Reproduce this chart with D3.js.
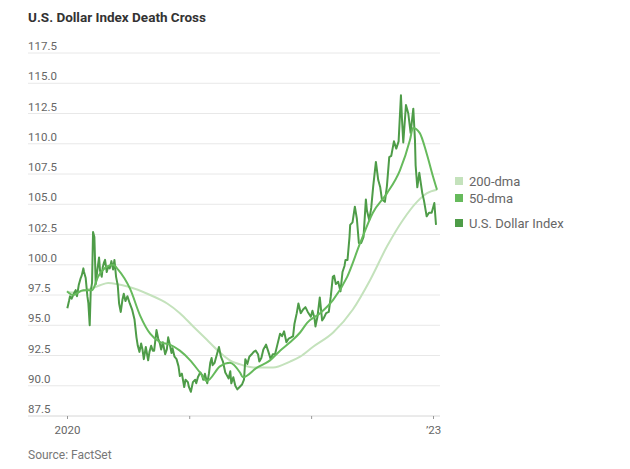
<!DOCTYPE html>
<html lang="en">
<head>
<meta charset="utf-8">
<title>U.S. Dollar Index Death Cross</title>
<script src="https://d3js.org/d3.v7.min.js"></script>
<style>
  html, body { margin: 0; padding: 0; background: #fff; }
  svg { display: block; }
  .title { font-family: Roboto, sans-serif; font-size: 13.5px; font-weight: bold; fill: #333; }
  .ylab { font-family: Roboto, sans-serif; font-size: 11.5px; fill: #666; }
  .legend { font-family: Roboto, sans-serif; font-size: 13px; fill: #666; }
  .source { font-family: Roboto, sans-serif; font-size: 12px; fill: #777; }
</style>
</head>
<body>
<svg width="630" height="469"></svg>
<script>
// ---- data ----
const yTicks = [87.5, 90.0, 92.5, 95.0, 97.5, 100.0, 102.5, 105.0, 107.5, 110.0, 112.5, 115.0, 117.5];
const xTickDates = ["2020-01-01", "2021-01-01", "2022-01-01", "2023-01-01"];
const xTickLabels = ["2020", "", "", "\u201923"];
const legendLabels = ["200-dma", "50-dma", "U.S. Dollar Index"];

const dollarIndex = [
  ["2020-01-02", 96.4], ["2020-01-07", 97.0], ["2020-01-10", 97.4], ["2020-01-15", 97.2],
  ["2020-01-21", 97.6], ["2020-01-27", 97.9], ["2020-01-31", 97.4], ["2020-02-05", 98.3],
  ["2020-02-11", 98.9], ["2020-02-14", 99.1], ["2020-02-19", 99.7], ["2020-02-21", 99.4],
  ["2020-02-26", 98.9], ["2020-03-02", 97.4], ["2020-03-05", 96.8], ["2020-03-09", 95.0],
  ["2020-03-12", 97.8], ["2020-03-16", 98.5], ["2020-03-19", 102.7], ["2020-03-23", 102.3],
  ["2020-03-27", 98.4], ["2020-04-01", 99.6], ["2020-04-06", 100.6], ["2020-04-09", 99.5],
  ["2020-04-14", 99.0], ["2020-04-17", 99.8], ["2020-04-21", 100.2], ["2020-04-24", 100.4],
  ["2020-04-29", 99.4], ["2020-05-04", 99.9], ["2020-05-08", 99.7], ["2020-05-13", 100.3],
  ["2020-05-18", 99.6], ["2020-05-22", 100.4], ["2020-05-27", 99.0], ["2020-06-01", 98.3],
  ["2020-06-05", 96.8], ["2020-06-10", 96.1], ["2020-06-15", 97.1], ["2020-06-19", 97.6],
  ["2020-06-24", 97.0], ["2020-06-30", 97.4], ["2020-07-07", 96.8], ["2020-07-14", 96.3],
  ["2020-07-21", 95.5], ["2020-07-27", 94.0], ["2020-07-31", 93.3], ["2020-08-05", 92.8],
  ["2020-08-10", 93.5], ["2020-08-14", 93.0], ["2020-08-18", 92.2], ["2020-08-24", 93.2],
  ["2020-08-31", 92.1], ["2020-09-04", 92.8], ["2020-09-09", 93.3], ["2020-09-14", 92.9],
  ["2020-09-18", 92.9], ["2020-09-25", 94.6], ["2020-09-30", 93.9], ["2020-10-05", 93.5],
  ["2020-10-09", 93.0], ["2020-10-14", 93.6], ["2020-10-21", 92.6], ["2020-10-26", 93.0],
  ["2020-10-30", 94.0], ["2020-11-04", 93.4], ["2020-11-09", 92.7], ["2020-11-12", 93.1],
  ["2020-11-18", 92.4], ["2020-11-24", 92.2], ["2020-11-30", 91.6], ["2020-12-04", 90.8],
  ["2020-12-10", 91.0], ["2020-12-17", 89.9], ["2020-12-21", 90.5], ["2020-12-28", 90.3],
  ["2020-12-31", 89.9], ["2021-01-06", 89.5], ["2021-01-12", 90.3], ["2021-01-19", 90.5],
  ["2021-01-22", 90.2], ["2021-01-27", 90.7], ["2021-02-03", 91.1], ["2021-02-08", 90.9],
  ["2021-02-12", 90.5], ["2021-02-17", 91.0], ["2021-02-24", 90.2], ["2021-03-01", 91.0],
  ["2021-03-05", 91.9], ["2021-03-09", 92.3], ["2021-03-12", 91.7], ["2021-03-18", 91.9],
  ["2021-03-25", 92.6], ["2021-03-31", 93.2], ["2021-04-06", 92.4], ["2021-04-12", 92.0],
  ["2021-04-19", 91.1], ["2021-04-23", 90.9], ["2021-04-29", 90.6], ["2021-05-04", 91.2],
  ["2021-05-07", 90.2], ["2021-05-13", 90.7], ["2021-05-19", 90.0], ["2021-05-25", 89.7],
  ["2021-06-01", 89.9], ["2021-06-08", 90.1], ["2021-06-14", 90.5], ["2021-06-18", 92.2],
  ["2021-06-24", 91.8], ["2021-06-30", 92.4], ["2021-07-07", 92.6], ["2021-07-13", 92.8],
  ["2021-07-19", 92.9], ["2021-07-26", 92.6], ["2021-07-30", 92.0], ["2021-08-05", 92.3],
  ["2021-08-11", 93.0], ["2021-08-19", 93.4], ["2021-08-25", 92.9], ["2021-09-02", 92.2],
  ["2021-09-08", 92.6], ["2021-09-15", 92.6], ["2021-09-22", 93.4], ["2021-09-30", 94.3],
  ["2021-10-06", 94.1], ["2021-10-12", 94.5], ["2021-10-19", 93.6], ["2021-10-26", 93.9],
  ["2021-11-02", 94.0], ["2021-11-08", 94.1], ["2021-11-12", 95.1], ["2021-11-19", 96.0],
  ["2021-11-24", 96.8], ["2021-12-01", 96.0], ["2021-12-08", 96.3], ["2021-12-15", 96.5],
  ["2021-12-22", 96.1], ["2021-12-31", 95.7], ["2022-01-05", 96.2], ["2022-01-11", 95.6],
  ["2022-01-14", 94.9], ["2022-01-20", 95.7], ["2022-01-27", 97.3], ["2022-02-03", 95.4],
  ["2022-02-08", 95.6], ["2022-02-15", 96.0], ["2022-02-23", 96.1], ["2022-03-01", 97.4],
  ["2022-03-07", 99.0], ["2022-03-11", 99.1], ["2022-03-16", 98.4], ["2022-03-23", 98.6],
  ["2022-03-30", 97.8], ["2022-04-05", 99.4], ["2022-04-11", 99.9], ["2022-04-14", 100.4],
  ["2022-04-20", 100.4], ["2022-04-26", 102.3], ["2022-04-28", 103.3], ["2022-05-05", 103.5],
  ["2022-05-12", 104.8], ["2022-05-18", 103.8], ["2022-05-24", 101.8], ["2022-05-31", 101.8],
  ["2022-06-07", 102.3], ["2022-06-14", 105.4], ["2022-06-17", 104.5], ["2022-06-24", 103.7],
  ["2022-06-30", 104.7], ["2022-07-06", 106.5], ["2022-07-14", 108.5], ["2022-07-21", 107.0],
  ["2022-07-27", 106.4], ["2022-08-01", 105.4], ["2022-08-10", 105.2], ["2022-08-16", 106.5],
  ["2022-08-23", 108.9], ["2022-08-29", 109.0], ["2022-09-06", 110.2], ["2022-09-13", 109.6],
  ["2022-09-20", 110.2], ["2022-09-27", 114.0], ["2022-09-30", 112.1], ["2022-10-04", 110.1],
  ["2022-10-12", 113.2], ["2022-10-19", 112.5], ["2022-10-26", 110.9], ["2022-11-03", 112.9],
  ["2022-11-08", 110.3], ["2022-11-10", 108.2], ["2022-11-15", 106.4], ["2022-11-21", 107.6],
  ["2022-11-30", 105.9], ["2022-12-05", 105.3], ["2022-12-13", 104.0], ["2022-12-20", 104.3],
  ["2022-12-28", 104.3], ["2023-01-05", 105.1], ["2023-01-10", 103.3]
];

const dma50 = [
  ["2020-01-01", 97.8], ["2020-01-19", 97.5], ["2020-02-18", 97.9], ["2020-03-16", 97.9],
  ["2020-04-03", 99.0], ["2020-04-27", 99.8], ["2020-05-18", 100.0], ["2020-06-02", 99.6],
  ["2020-07-08", 98.0], ["2020-08-07", 95.8], ["2020-09-06", 94.3], ["2020-10-06", 93.6],
  ["2020-11-04", 93.4], ["2020-12-04", 92.9], ["2021-01-04", 92.1], ["2021-02-02", 91.1],
  ["2021-02-23", 90.4], ["2021-04-03", 91.6], ["2021-05-03", 91.9], ["2021-06-02", 91.1],
  ["2021-06-11", 90.7], ["2021-07-23", 91.5], ["2021-08-31", 92.1], ["2021-09-30", 92.9],
  ["2021-10-30", 93.6], ["2021-11-29", 94.4], ["2021-12-20", 95.2], ["2022-01-28", 96.0],
  ["2022-03-08", 97.1], ["2022-04-19", 99.0], ["2022-05-28", 101.8], ["2022-07-05", 104.3],
  ["2022-08-16", 105.9], ["2022-09-24", 107.8], ["2022-10-24", 110.3], ["2022-11-02", 111.3],
  ["2022-11-22", 110.9], ["2022-12-13", 109.2], ["2023-01-01", 107.3], ["2023-01-13", 106.2]
];

const dma200 = [
  ["2020-01-01", 97.8], ["2020-01-19", 97.7], ["2020-03-19", 98.1], ["2020-04-09", 98.3],
  ["2020-05-03", 98.5], ["2020-07-01", 98.2], ["2020-09-06", 97.5], ["2020-10-27", 96.8],
  ["2020-12-04", 96.0], ["2021-01-13", 94.9], ["2021-02-23", 93.8], ["2021-03-28", 92.9],
  ["2021-05-03", 92.1], ["2021-06-11", 91.7], ["2021-07-23", 91.5], ["2021-09-09", 91.5],
  ["2021-10-30", 92.0], ["2021-11-29", 92.4], ["2022-01-06", 93.2], ["2022-03-08", 94.4],
  ["2022-05-06", 96.3], ["2022-06-26", 98.7], ["2022-08-16", 101.5], ["2022-10-03", 103.7],
  ["2022-11-14", 105.2], ["2022-12-13", 105.9], ["2023-01-13", 106.2]
];

const colors = { dma200: "#c4e2bc", dma50: "#66ba5c", index: "#4e9c48" };

// ---- chart ----
const svg = d3.select("svg");
const parse = d3.timeParse("%Y-%m-%d");

const x = d3.scaleTime()
  .domain([parse("2020-01-01"), parse("2023-01-01")])
  .range([67, 433]);
const y = d3.scaleLinear()
  .domain([87.5, 117.5])
  .range([416, 53]);

svg.append("text")
  .attr("class", "title")
  .attr("x", 28).attr("y", 22)
  .text("U.S. Dollar Index Death Cross");

// gridlines + y labels
const grid = svg.append("g");
grid.selectAll("line")
  .data(yTicks)
  .enter().append("line")
  .attr("x1", 28).attr("x2", 440)
  .attr("y1", d => y(d)).attr("y2", d => y(d))
  .attr("stroke", d => d === 87.5 ? "#d6d6d6" : "#e8e8e8")
  .attr("stroke-width", 1);
grid.selectAll("text")
  .data(yTicks)
  .enter().append("text")
  .attr("class", "ylab")
  .attr("x", 28).attr("y", d => y(d) - 3)
  .text(d => d.toFixed(1));

// x axis
const xAxis = d3.axisBottom(x)
  .tickValues(xTickDates.map(parse))
  .tickSize(3)
  .tickPadding(7)
  .tickFormat((d, i) => xTickLabels[i]);
const gx = svg.append("g")
  .attr("transform", "translate(0," + y(87.5) + ")")
  .call(xAxis);
gx.select(".domain").remove();
gx.selectAll(".tick line").attr("stroke", "#999");
gx.selectAll(".tick text")
  .attr("fill", "#666")
  .style("font-family", "Roboto, sans-serif")
  .style("font-size", "11.5px");

// lines
const line = d3.line()
  .x(d => x(parse(d[0])))
  .y(d => y(d[1]));
const smooth = d3.line()
  .x(d => x(parse(d[0])))
  .y(d => y(d[1]))
  .curve(d3.curveMonotoneX);

svg.append("path").datum(dma200)
  .attr("d", smooth).attr("fill", "none")
  .attr("stroke", colors.dma200).attr("stroke-width", 2);
svg.append("path").datum(dollarIndex)
  .attr("d", line).attr("fill", "none")
  .attr("stroke", colors.index).attr("stroke-width", 2)
  .attr("stroke-linejoin", "round");
svg.append("path").datum(dma50)
  .attr("d", smooth).attr("fill", "none")
  .attr("stroke", colors.dma50).attr("stroke-width", 2);

// legend
const legendY = [181, 198, 223];
const legendColors = [colors.dma200, colors.dma50, colors.index];
const lg = svg.append("g");
lg.selectAll("rect")
  .data(legendLabels)
  .enter().append("rect")
  .attr("x", 455).attr("y", (d, i) => legendY[i] - 4)
  .attr("width", 8).attr("height", 8)
  .attr("fill", (d, i) => legendColors[i]);
lg.selectAll("text")
  .data(legendLabels)
  .enter().append("text")
  .attr("class", "legend")
  .attr("x", 469).attr("y", (d, i) => legendY[i] + 4.5)
  .text(d => d);

svg.append("text")
  .attr("class", "source")
  .attr("x", 28).attr("y", 459)
  .text("Source: FactSet");
</script>
</body>
</html>
